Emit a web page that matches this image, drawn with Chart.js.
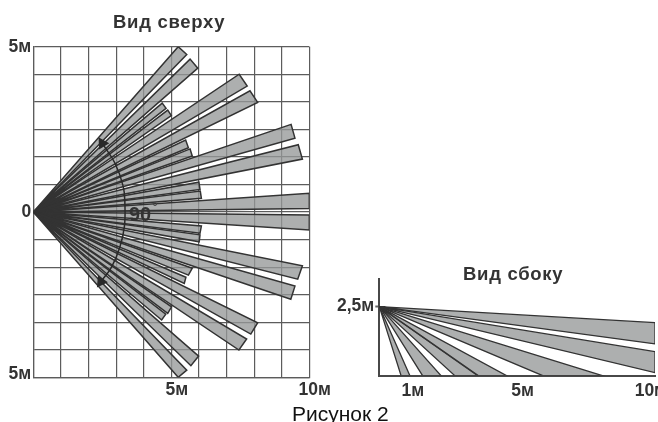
<!DOCTYPE html>
<html>
<head>
<meta charset="utf-8">
<script src="https://cdn.jsdelivr.net/npm/chart.js@4"></script>
<style>
  html, body { margin: 0; padding: 0; background: #fff; overflow: hidden; }
  body { width: 658px; height: 422px; position: relative; font-family: "Liberation Sans", Arial, sans-serif; }
  canvas { position: absolute; filter: blur(0.4px); }
  #topView { left: 0; top: 0; }
  #sideView { left: 330px; top: 250px; }
  .txt { position: absolute; white-space: nowrap; line-height: 1; filter: blur(0.3px); }
  .title { font-weight: bold; font-size: 18.5px; color: #333; letter-spacing: 0.7px; }
</style>
</head>
<body>
<canvas id="topView" width="335" height="405"></canvas>
<canvas id="sideView" width="328" height="172"></canvas>
<div class="txt title" style="left:113px;top:13px">Вид сверху</div>
<div class="txt title" style="left:463px;top:265px">Вид сбоку</div>
<div class="txt" style="left:129px;top:204px;font-size:20px;font-weight:bold;color:#333">90</div>
<div class="txt" style="left:152px;top:199px;font-size:15px;color:#444">°</div>
<div class="txt" style="left:292px;top:403px;font-size:21px;color:#111">Рисунок 2</div>
<script>
// Top view, in grid cells from the sensor (x: 1 cell = 1м, y: 6 cells = 5м)
const topBeamX1 = [5.25, 5.68, 7.46, 7.85, 4.67, 4.87, 9.34, 9.60, 5.52, 5.68, 6.00, 6.05, 10, 10, 6.09, 6.04, 5.76, 5.53, 9.75, 9.48, 8.13, 7.73, 5.01, 4.80, 5.99, 5.56];
const topBeamY1 = [6.00, 5.55, 5.00, 4.40, 3.95, 3.70, 3.18, 2.44, 2.61, 2.29, 1.08, 0.76, 0.68, -0.11, -0.51, -0.83, -2.04, -2.37, -1.95, -2.69, -4.02, -4.61, -3.44, -3.71, -5.23, -5.74];
const topBeamX2 = [5.56, 5.96, 7.75, 8.13, 4.81, 5.00, 9.48, 9.75, 5.62, 5.76, 6.04, 6.09, 10, 10, 6.04, 6.01, 5.62, 5.47, 9.58, 9.33, 7.88, 7.45, 4.87, 4.65, 5.71, 5.25];
const topBeamY2 = [5.72, 5.22, 4.57, 3.98, 3.76, 3.50, 2.68, 1.92, 2.33, 2.03, 0.82, 0.50, 0.13, -0.65, -0.77, -1.08, -2.29, -2.59, -2.44, -3.17, -4.43, -5.01, -3.68, -3.92, -5.58, -6.00];

const arcX = [2.50, 2.96, 3.26, 3.32, 3.30, 3.14, 2.84, 2.45];
const arcY = [2.49, 1.77, 0.92, 0.25, -0.53, -1.26, -1.99, -2.53];

const topXTicks = [5.2, 10.2];
const topXLabels = ['5м', '10м'];
const topYTicks = [6, 0, -5.9];
const topYLabels = ['5м', '0', '5м'];

// Side view, in metres. Each beam: two points where its edges end.
const sideBeamX1 = [10, 10, 8.10, 4.62, 3.57, 2.24, 1.11];
const sideBeamY1 = [1.92, 0.87, 0, 0, 0, 0, 0];
const sideBeamX2 = [10, 10, 5.93, 3.60, 2.74, 1.57, 0.79];
const sideBeamY2 = [1.15, 0.11, 0, 0, 0, 0, 0];

const sideXTicks = [1.22, 5.2, 9.85];
const sideXLabels = ['1м', '5м', '10м'];
const sideYTicks = [2.5];
const sideYLabels = ['2,5м'];
const sensorHeight = 2.5;

const labelFont = { family: '"Liberation Sans", sans-serif', size: 17.5, weight: 'bold' };
const beamFill = 'rgba(150,153,153,0.78)';
const beamEdge = '#333';

function beams(x0, y0, x1, y1, x2, y2, width) {
    return x1.map((_, i) => ({
        data: [
            { x: x0, y: y0 },
            { x: x1[i], y: y1[i] },
            { x: x2[i], y: y2[i] },
            { x: x0, y: y0 }
        ],
        showLine: true,
        fill: 'shape',
        tension: 0,
        pointRadius: 0,
        borderWidth: width,
        borderColor: beamEdge,
        backgroundColor: beamFill
    }));
}

// axis that only carries text labels at the given positions
function labelAxis(position, min, max, values, texts, size, padding, extraGrid) {
    return {
        type: 'linear',
        position,
        min,
        max,
        border: { display: false },
        grid: extraGrid || { display: false, drawTicks: false },
        afterBuildTicks: (s) => { s.ticks = values.map(v => ({ value: v })); },
        afterFit: (s) => {
            if (position === 'left') s.width = size; else s.height = size;
            s.paddingLeft = s.paddingRight = s.paddingTop = s.paddingBottom = 0;
        },
        ticks: {
            autoSkip: false,
            maxRotation: 0,
            padding,
            color: '#333',
            font: labelFont,
            callback: (v) => texts[values.indexOf(v)]
        }
    };
}

const commonOptions = {
    responsive: false,
    animation: false,
    devicePixelRatio: 1,
    plugins: { legend: { display: false }, tooltip: { enabled: false } }
};

new Chart(document.getElementById('topView'), {
    type: 'scatter',
    data: {
        datasets: [
            ...beams(0, 0, topBeamX1, topBeamY1, topBeamX2, topBeamY2, 1.5),
            {
                data: arcX.map((x, i) => ({ x, y: arcY[i] })),
                order: -1,
                showLine: true,
                tension: 0.4,
                borderWidth: 1.5,
                borderColor: '#2a2a2a',
                pointStyle: 'triangle',
                pointRadius: arcX.map((_, i) => (i === 0 || i === arcX.length - 1) ? 5.5 : 0),
                pointRotation: arcX.map((_, i) => i === 0 ? -32 : 215),
                pointBackgroundColor: '#2a2a2a',
                pointBorderColor: '#2a2a2a'
            }
        ]
    },
    options: {
        ...commonOptions,
        layout: { padding: { left: 0, top: 46.7, right: 25.7, bottom: 0 } },
        scales: {
            x: {
                type: 'linear',
                min: 0,
                max: 10,
                border: { color: '#5c5c5c', width: 1.2 },
                grid: { color: '#5c5c5c', lineWidth: 1.2, drawTicks: false },
                ticks: { stepSize: 1, display: false },
                afterFit: (s) => { s.height = 0; s.paddingLeft = s.paddingRight = 0; }
            },
            y: {
                type: 'linear',
                min: -6,
                max: 6,
                border: { color: '#5c5c5c', width: 1.2 },
                grid: { color: '#5c5c5c', lineWidth: 1.2, drawTicks: false },
                ticks: { stepSize: 1, display: false },
                afterFit: (s) => { s.width = 0; s.paddingTop = s.paddingBottom = 0; }
            },
            xText: labelAxis('bottom', 0, 10, topXTicks, topXLabels, 27.7, 2),
            yText: labelAxis('left', -6, 6, topYTicks, topYLabels, 33.3, 2)
        }
    }
});

new Chart(document.getElementById('sideView'), {
    type: 'scatter',
    data: { datasets: beams(0, sensorHeight, sideBeamX1, sideBeamY1, sideBeamX2, sideBeamY2, 1.3) },
    options: {
        ...commonOptions,
        layout: { padding: { left: 0, top: 29, right: 3, bottom: 0 } },
        scales: {
            x: {
                type: 'linear',
                min: 0,
                max: 10,
                border: { color: '#484848', width: 2 },
                grid: { display: false },
                ticks: { display: false },
                afterFit: (s) => { s.height = 0; s.paddingLeft = s.paddingRight = 0; }
            },
            y: {
                type: 'linear',
                min: 0,
                max: 3.5,
                border: { color: '#484848', width: 2 },
                grid: { display: false },
                ticks: { display: false },
                afterFit: (s) => { s.width = 0; s.paddingTop = s.paddingBottom = 0; }
            },
            xText: labelAxis('bottom', 0, 10, sideXTicks, sideXLabels, 46.3, 5),
            yText: labelAxis('left', 0, 3.5, sideYTicks, sideYLabels, 49.3, 1,
                { drawOnChartArea: false, drawTicks: true, tickLength: 4, tickWidth: 2, color: '#666' })
        }
    }
});
</script>
</body>
</html>
